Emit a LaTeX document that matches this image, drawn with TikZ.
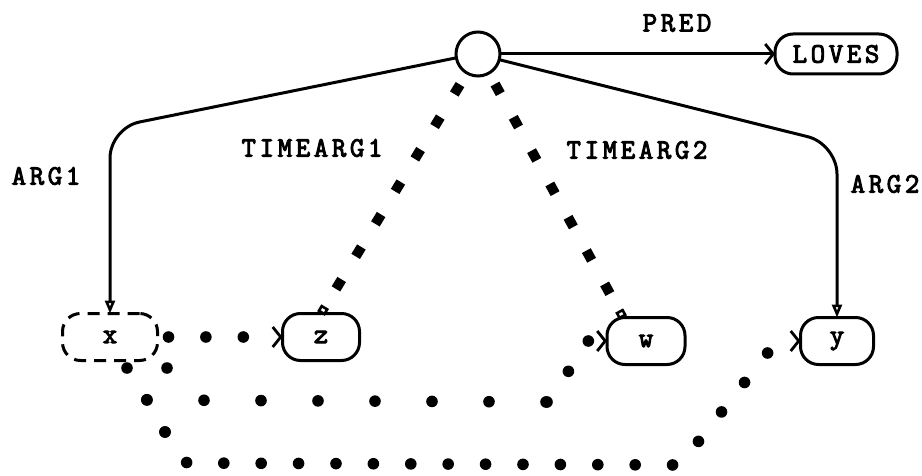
\documentclass[tikz,border=0pt]{standalone}
\usepackage{fontspec}
\newfontfamily\typew{Latin Modern Mono}[FakeBold=3.5, LetterSpace=13]
\usetikzlibrary{arrows.meta}

\begin{document}
\begin{tikzpicture}[x=0.5pt,y=-0.5pt,
  every node/.style={font=\typew\fontsize{14}{17}\selectfont, inner sep=0pt, outer sep=0pt},
  obj/.style={draw, line width=1.5pt, rounded corners=9pt, minimum height=23.5pt},
  arc/.style={line width=1.5pt, rounded corners=15pt},
  argtip/.style={-{Triangle[open, length=6.5pt, width=5pt, line width=1.3pt]}},
  barb/.style={-{Straight Barb[line width=1.4pt, length=4pt, width=10pt]}},
  sqtip/.style={-{Square[open, length=4pt, width=4.5pt, line width=1.3pt]}},
  rounddots/.style={line width=5.8pt, line cap=round, dash pattern=on 0pt off 18.7pt},
  squaredots/.style={line width=5pt, dash pattern=on 5.5pt off 13.5pt}]

\useasboundingbox (0,0) rectangle (922,476);

\node[draw, circle, line width=1.5pt, minimum size=22pt] (c) at (478,54) {};
\node[obj, minimum width=61pt, minimum height=20pt] (loves) at (836,54) {LOVES};
\node[obj, dash pattern=on 6pt off 4pt, minimum width=47.5pt] (x) at (110,337) {x};
\node[obj, minimum width=38.5pt] (z) at (321,337) {z};
\node[obj, minimum width=39pt] (w) at (646,341) {w};
\node[obj, minimum width=36.5pt] (y) at (837,341) {y};

\node at (677,23) {PRED};
\node at (46,176) {ARG1};
\node at (885,184) {ARG2};
\node at (312,148) {TIMEARG1};
\node at (637,150) {TIMEARG2};

\draw[line width=1.5pt, barb] (c.east) -- (loves.west);
\draw[arc, argtip] (c.190) -- (110,128) -- (x.north);
\draw[arc, argtip] (c.-15) -- (837,144) -- (y.north);

\draw[squaredots, sqtip, shorten <=6.75pt] (c.240) -- (z.north);
\draw[squaredots, sqtip, shorten <=6.25pt] (c.300) -- ([xshift=8pt]w.north west);

\draw[rounddots, barb, shorten <=5.5pt] (x.east) -- (z.west);

\coordinate (w1) at (127,368);
\coordinate (w2) at (147,400);
\coordinate (w3) at (547,402);
\coordinate (w4) at (568,372);
\coordinate (w5) at (586,341);
\draw[rounddots] (w1) -- (w2);
\draw[rounddots, dash pattern=on 0pt off 28.5pt] (w2) -- (w3);
\draw[rounddots, barb] (w3) -- (w4) -- (w5) -- (w.west);

\coordinate (y1) at (167,368);
\coordinate (y2) at (165,432);
\coordinate (y3) at (187,463);
\coordinate (y4) at (680,465);
\coordinate (y5) at (777,341);
\draw[rounddots, dash pattern=on 0pt off 32pt] (y1) -- (y2);
\draw[rounddots, barb] (y2) -- (y3) -- (y4) -- (y5) -- (y.west);
\end{tikzpicture}
\end{document}
